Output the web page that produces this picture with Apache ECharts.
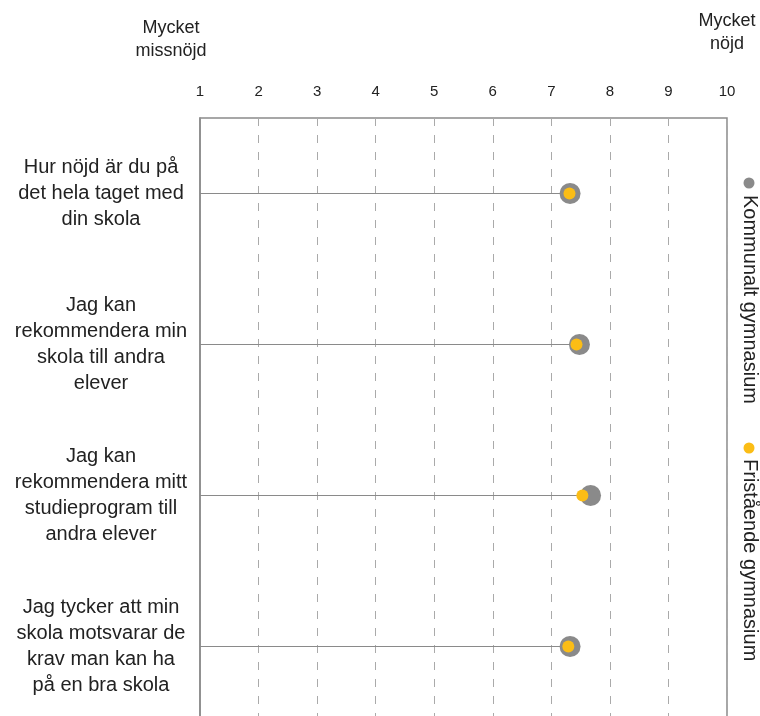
<!DOCTYPE html>
<html>
<head>
<meta charset="utf-8">
<script src="https://cdn.jsdelivr.net/npm/echarts@6/dist/echarts.min.js"></script>
<style>
  html, body { margin: 0; padding: 0; background: #fff; }
  #chart { width: 760px; height: 716px; }
</style>
</head>
<body>
<div id="chart"></div>
<script>
// frågor (kategorier)
const questions = [
  'Hur nöjd är du på\ndet hela taget med\ndin skola',
  'Jag kan\nrekommendera min\nskola till andra\nelever',
  'Jag kan\nrekommendera mitt\nstudieprogram till\nandra elever',
  'Jag tycker att min\nskola motsvarar de\nkrav man kan ha\npå en bra skola'
]
const seriesNames = ['Kommunalt gymnasium', 'Fristående gymnasium']
const kommunalt = [7.32, 7.48, 7.67, 7.32]
const fristaende = [7.31, 7.43, 7.53, 7.29]
const scaleTicks = [1, 2, 3, 4, 5, 6, 7, 8, 9, 10]

const grayColor = '#8a8a8a'
const yellowColor = '#fbbd16'
const font = 'Liberation Sans, Arial, sans-serif'

const chart = echarts.init(document.getElementById('chart'))

const option = {
  animation: false,
  grid: {
    left: 200, top: 118, width: 527, height: 604,
    outerBoundsMode: 'none',
    containLabel: false,
    show: true, borderColor: grayColor, borderWidth: 1.5
  },
  xAxis: {
    type: 'value',
    position: 'top',
    min: scaleTicks[0],
    max: scaleTicks[scaleTicks.length - 1],
    interval: 1,
    axisLine: { show: false },
    axisTick: { show: false },
    axisLabel: { color: '#222', fontSize: 15, fontFamily: font, margin: 19 },
    splitLine: { show: true, lineStyle: { color: '#aaa', type: [8, 9], width: 1 } }
  },
  yAxis: {
    type: 'category',
    inverse: true,
    data: questions,
    axisLine: { show: true, lineStyle: { color: grayColor, width: 1.5 } },
    axisTick: { show: false },
    axisLabel: {
      color: '#222', fontSize: 20, fontFamily: font, lineHeight: 26,
      align: 'center', margin: 99
    }
  },
  series: [
    {
      // linjen från skalans början till punkten
      type: 'bar',
      data: kommunalt,
      barWidth: 1,
      itemStyle: { color: grayColor },
      silent: true,
      z: 1
    },
    {
      name: seriesNames[0],
      type: 'scatter',
      data: kommunalt,
      symbolSize: 21,
      itemStyle: { color: grayColor, opacity: 1 },
      z: 3
    },
    {
      name: seriesNames[1],
      type: 'scatter',
      data: fristaende,
      symbolSize: 12,
      itemStyle: { color: yellowColor, opacity: 1 },
      z: 4
    }
  ],
  graphic: [
    {
      type: 'text', x: 171, y: 17,
      style: { text: 'Mycket\nmissnöjd', fill: '#222', font: '18px ' + font, lineHeight: 23, align: 'center', verticalAlign: 'top' }
    },
    {
      type: 'text', x: 727, y: 10,
      style: { text: 'Mycket\nnöjd', fill: '#222', font: '18px ' + font, lineHeight: 23, align: 'center', verticalAlign: 'top' }
    },
    {
      type: 'circle', shape: { cx: 749, cy: 183, r: 5.5 }, style: { fill: grayColor }
    },
    {
      type: 'text', x: 750, y: 195, rotation: -Math.PI / 2,
      style: { text: seriesNames[0], fill: '#222', font: '20px ' + font, align: 'left', verticalAlign: 'middle' }
    },
    {
      type: 'circle', shape: { cx: 749, cy: 448, r: 5.5 }, style: { fill: yellowColor }
    },
    {
      type: 'text', x: 750, y: 459, rotation: -Math.PI / 2,
      style: { text: seriesNames[1], fill: '#222', font: '20px ' + font, align: 'left', verticalAlign: 'middle' }
    }
  ]
}

chart.setOption(option)
</script>
</body>
</html>
